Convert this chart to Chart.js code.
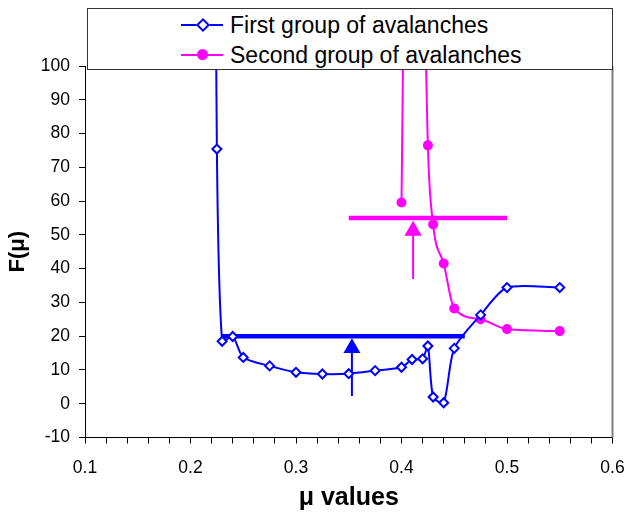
<!DOCTYPE html>
<html><head><meta charset="utf-8">
<script src="https://cdn.jsdelivr.net/npm/chart.js@4/dist/chart.umd.min.js"></script>
<style>
html,body{margin:0;padding:0;background:#fff;}
#wrap{position:relative;width:627px;height:513px;overflow:hidden;}
#c{position:absolute;left:0;top:0;}
#legend{position:absolute;left:87px;top:8px;width:526px;height:62px;box-sizing:border-box;border:1px solid #333;background:#fff;font-family:"Liberation Sans",Arial,sans-serif;font-size:23px;color:#000;}
.row{position:absolute;left:0;width:100%;height:30px;}
.ln{position:absolute;left:93px;width:42px;height:2px;top:14px;}
.mk{position:absolute;}
.tx{position:absolute;left:142px;top:0;line-height:30px;white-space:nowrap;}
</style></head>
<body>
<div id="wrap">
<canvas id="c" width="627" height="513"></canvas>
<div id="legend">
  <div class="row" style="top:1px">
    <div class="ln" style="background:#0000ff"></div>
    <div class="mk" style="left:110px;top:10px;width:6px;height:6px;border:2px solid #0000ff;background:#fff;transform:rotate(45deg)"></div>
    <div class="tx" id="l1"></div>
  </div>
  <div class="row" style="top:31px">
    <div class="ln" style="background:#ff00ff"></div>
    <div class="mk" style="left:109px;top:9px;width:11px;height:11px;border-radius:50%;background:#ff00ff"></div>
    <div class="tx" id="l2"></div>
  </div>
</div>
</div>
<script>
// ---- data ----
const seriesNames = ["First group of avalanches", "Second group of avalanches"];
const blueX = [0.22, 0.225, 0.23, 0.24, 0.25, 0.275, 0.30, 0.325, 0.35, 0.375, 0.40, 0.41, 0.42, 0.425, 0.43, 0.44, 0.45, 0.475, 0.50, 0.55];
const blueY = [300, 75.4, 18.5, 19.9, 13.7, 11.2, 9.3, 8.8, 8.9, 9.8, 10.8, 13.1, 13.3, 17.1, 2.0, 0.3, 16.4, 26.3, 34.4, 34.4];
const magX = [0.40, 0.41, 0.425, 0.43, 0.44, 0.45, 0.475, 0.50, 0.55];
const magY = [59.6, 320, 76.5, 53.1, 41.5, 28.2, 25.0, 22.1, 21.5];
// horizontal levels and arrows
const blueLevelX = [0.23, 0.46];
const blueLevelY = [20, 20];
const magLevelX = [0.35, 0.50];
const magLevelY = [55, 55];
const blueArrowX = [0.353, 0.353];
const blueArrowY = [2.3, 16.5];
const magArrowX = [0.411, 0.411];
const magArrowY = [36.9, 51.2];
// axes
const xMin = 0.1, xMax = 0.6, xMinorStep = 0.02;
const yMin = -10, yMax = 100, yStep = 10;
const xTitle = "μ values";
const yTitle = "F(μ)";

document.getElementById('l1').textContent = seriesNames[0];
document.getElementById('l2').textContent = seriesNames[1];

const pts = (xs, ys) => xs.map((x, i) => ({x: x, y: ys[i]}));
const BLUE = '#0000ff', MAG = '#ff00ff';
const FONT = '"Liberation Sans", Arial, sans-serif';

const borderPlugin = {
  id: 'frame',
  afterDraw(chart) {
    const {ctx, chartArea: a} = chart;
    ctx.save();
    ctx.strokeStyle = '#808080';
    ctx.lineWidth = 2;
    ctx.beginPath();
    ctx.moveTo(a.right, a.top);
    ctx.lineTo(a.right, a.bottom);
    ctx.stroke();
    ctx.restore();
  }
};

new Chart(document.getElementById('c'), {
  type: 'line',
  data: {
    datasets: [
      {label: seriesNames[0], data: pts(blueX, blueY), borderColor: BLUE, borderWidth: 2,
       pointStyle: 'rectRot', pointRadius: 4.5, pointBackgroundColor: '#fff', pointBorderColor: BLUE, pointBorderWidth: 2,
       tension: 0.25},
      {label: seriesNames[1], data: pts(magX, magY), borderColor: MAG, borderWidth: 2,
       pointStyle: 'circle', pointRadius: 5, pointBackgroundColor: MAG, pointBorderColor: MAG, pointBorderWidth: 0,
       cubicInterpolationMode: 'monotone'},
      {label: 'lvl1', data: pts(blueLevelX, blueLevelY), borderColor: BLUE, borderWidth: 4.5, pointRadius: 0, tension: 0},
      {label: 'lvl2', data: pts(magLevelX, magLevelY), borderColor: MAG, borderWidth: 4.5, pointRadius: 0, tension: 0},
      {label: 'arr1', data: pts(blueArrowX, blueArrowY), borderColor: BLUE, borderWidth: 2, tension: 0,
       pointStyle: 'triangle', pointRadius: [0, 9.8], pointBackgroundColor: BLUE, pointBorderColor: BLUE, pointBorderWidth: 0},
      {label: 'arr2', data: pts(magArrowX, magArrowY), borderColor: MAG, borderWidth: 2, tension: 0,
       pointStyle: 'triangle', pointRadius: [0, 10], pointBackgroundColor: MAG, pointBorderColor: MAG, pointBorderWidth: 0}
    ]
  },
  options: {
    responsive: false,
    animation: false,
    devicePixelRatio: 1,
    layout: {padding: {top: 66, right: 14.5, left: 0, bottom: 0}},
    plugins: {legend: {display: false}, tooltip: {enabled: false}},
    scales: {
      x: {
        type: 'linear', min: xMin, max: xMax,
        afterFit(s) { s.height = 75.5; s.paddingLeft = 0; s.paddingRight = 0; },
        afterBuildTicks(s) {
          const t = [];
          const n = Math.round((xMax - xMin) / xMinorStep);
          for (let i = 0; i <= n; i++) t.push({value: +(xMin + i * xMinorStep).toFixed(4)});
          s.ticks = t;
        },
        ticks: {
          autoSkip: false, maxRotation: 0, padding: 14, color: '#000',
          font: {family: FONT, size: 17.5},
          callback(v) {
            const k = v * 10;
            return Math.abs(k - Math.round(k)) < 1e-6 ? (Math.round(k) / 10).toFixed(1) : '';
          }
        },
        grid: {display: true, drawOnChartArea: false, drawTicks: true, tickLength: 6, color: '#000', lineWidth: 1},
        border: {display: true, color: '#000', width: 1},
        title: {display: true, text: xTitle, color: '#000', font: {family: FONT, size: 25, weight: 'bold'}, padding: {top: 3, bottom: 0}}
      },
      y: {
        type: 'linear', min: yMin, max: yMax,
        afterFit(s) { s.width = 85; s.paddingTop = 0; s.paddingBottom = 0; },
        ticks: {stepSize: yStep, padding: 9, color: '#000', font: {family: FONT, size: 17.5}},
        grid: {display: true, drawOnChartArea: false, drawTicks: true, tickLength: 6, color: '#000', lineWidth: 1},
        border: {display: true, color: '#000', width: 1},
        title: {display: true, text: yTitle, color: '#000', font: {family: FONT, size: 22, weight: 'bold'}, padding: {top: 5, bottom: 0}}
      }
    }
  },
  plugins: [borderPlugin]
});
</script>
</body></html>
